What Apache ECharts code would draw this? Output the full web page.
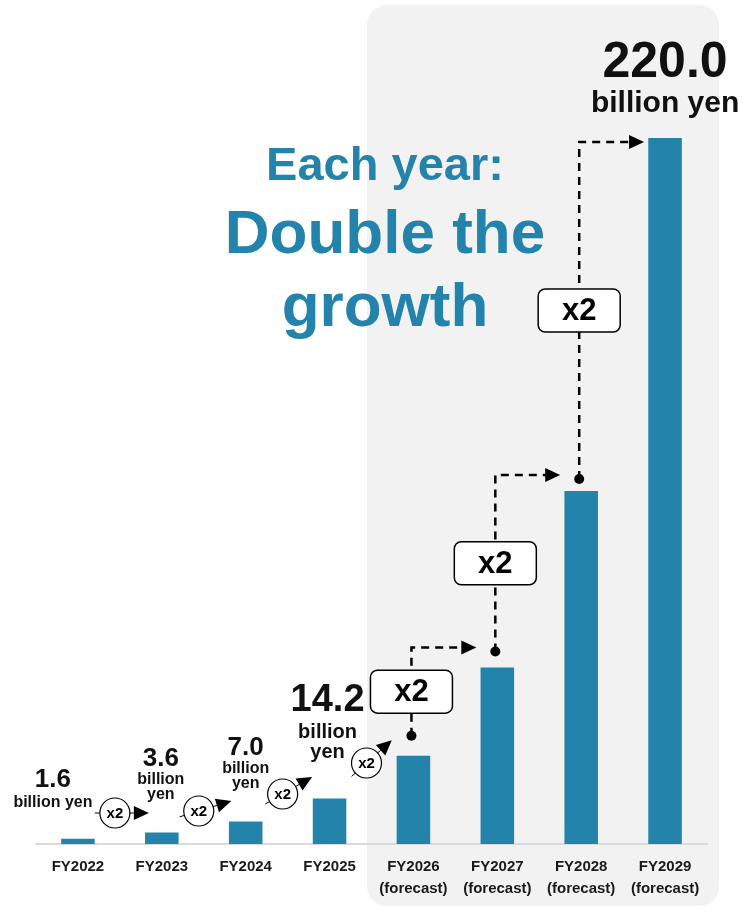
<!DOCTYPE html>
<html>
<head>
<meta charset="utf-8">
<script src="https://cdn.jsdelivr.net/npm/echarts@6/dist/echarts.min.js"></script>
<style>
  html, body { margin: 0; padding: 0; background: #fff; }
  #main { width: 743px; height: 909px; }
</style>
</head>
<body>
<div id="main"></div>
<script>
  // data
  var categories = ['FY2022', 'FY2023', 'FY2024', 'FY2025', 'FY2026', 'FY2027', 'FY2028', 'FY2029'];
  var axisNotes = ['', '', '', '', '(forecast)', '(forecast)', '(forecast)', '(forecast)'];
  var sales = [1.6, 3.6, 7.0, 14.2, 27.5, 55, 110, 220];
  var valueLabels = ['1.6', '3.6', '7.0', '14.2', '', '', '', '220.0'];
  var unitLines = [['billion yen'], ['billion', 'yen'], ['billion', 'yen'], ['billion', 'yen'], [], [], [], ['billion yen']];
  var growthMark = 'x2';
  var headline = ['Each year:', 'Double the', 'growth'];

  var FONT = '"Liberation Sans", Arial, Helvetica, sans-serif';
  var BLUE = '#2383ab';
  var INK = '#111';

  // label look per bar (null = no label)
  var labelStyle = [
    { num: 26, unit: 16, numLH: 28, unitLH: 18, dist: 27, dx: -25 },
    { num: 26, unit: 16, numLH: 28, unitLH: 15, dist: 30, dx: -1 },
    { num: 26, unit: 16, numLH: 28, unitLH: 15, dist: 30, dx: 0 },
    { num: 38, unit: 20, numLH: 44, unitLH: 20, dist: 36, dx: -2 },
    null, null, null,
    { num: 50, unit: 30, numLH: 52, unitLH: 30, dist: 19, dx: 0 }
  ];

  var barData = sales.map(function (v, i) {
    var s = labelStyle[i];
    if (!s) return { value: v, label: { show: false } };
    var txt = '{n|' + valueLabels[i] + '}\n' + unitLines[i].map(function (t) { return '{u|' + t + '}'; }).join('\n');
    return {
      value: v,
      label: {
        show: true,
        position: 'top',
        distance: s.dist,
        offset: [s.dx, 0],
        formatter: txt,
        rich: {
          n: { fontSize: s.num, fontWeight: 'bold', lineHeight: s.numLH, color: INK, fontFamily: FONT },
          u: { fontSize: s.unit, fontWeight: 'bold', lineHeight: s.unitLH, color: INK, fontFamily: FONT }
        }
      }
    };
  });

  var chart = echarts.init(document.getElementById('main'));
  var option = {
    animation: false,
    backgroundColor: '#fff',
    grid: { left: 36, right: 36, top: 138, bottom: 65 },
    xAxis: {
      type: 'category',
      data: categories,
      axisLine: { lineStyle: { color: '#d9d9d9', width: 2 } },
      axisTick: { show: false },
      axisLabel: {
        interval: 0,
        margin: 12,
        formatter: function (v, i) {
          return '{a|' + v + '}' + (axisNotes[i] ? '\n{a|' + axisNotes[i] + '}' : '');
        },
        rich: {
          a: { fontSize: 15, fontWeight: 'bold', lineHeight: 22, color: '#1a1a1a', fontFamily: FONT }
        }
      }
    },
    yAxis: {
      type: 'value',
      min: 0,
      max: 220,
      show: false,
      splitLine: { show: false }
    },
    series: [{
      type: 'bar',
      data: barData,
      barWidth: '40%',
      itemStyle: { color: BLUE },
      z: 5
    }]
  };
  chart.setOption(option);

  // annotations anchored on the bars
  var pts = sales.map(function (v, i) { return chart.convertToPixel({ seriesIndex: 0 }, [i, v]); });
  var g = [];

  // grey forecast panel
  g.push({
    type: 'rect', z: -10, silent: true,
    shape: { x: 367, y: 5, width: 352, height: 901, r: 20 },
    style: { fill: '#f2f2f2' }
  });

  // headline
  var headSize = [47, 62, 62];
  var headBase = [183, 257, 330];
  headline.forEach(function (t, k) {
    g.push({
      type: 'text', z: 10,
      style: {
        text: t, x: 385, y: headBase[k] - 0.3465 * headSize[k],
        align: 'center', verticalAlign: 'middle',
        fontSize: headSize[k], fontWeight: 'bold', fontFamily: FONT, fill: BLUE
      }
    });
  });

  // dashed connectors between forecast bars
  var dotLift = [20, 16, 12];
  for (var k = 0; k < 3; k++) {
    var i = 4 + k;
    var x0 = pts[i][0] - 2;
    var yDot = pts[i][1] - dotLift[k];
    var yH = (i + 1 < 7) ? pts[i + 1][1] - dotLift[k + 1] - 4 : pts[i + 1][1] + 4;
    var xTip = pts[i + 1][0] - 21;
    g.push({
      type: 'polyline', z: 10,
      shape: { points: [[x0, yDot], [x0, yH], [xTip - 12, yH]] },
      style: { stroke: '#000', lineWidth: 2.5, lineDash: [8, 6], fill: null }
    });
    g.push({
      type: 'polygon', z: 10,
      shape: { points: [[xTip - 15, yH - 7], [xTip, yH], [xTip - 15, yH + 7]] },
      style: { fill: '#000' }
    });
    g.push({
      type: 'circle', z: 10,
      shape: { cx: x0, cy: yDot, r: 5 },
      style: { fill: '#000' }
    });
    var mid = (yDot + yH) / 2;
    g.push({
      type: 'rect', z: 11,
      shape: { x: x0 - 41, y: mid - 21.5, width: 82, height: 43, r: 7 },
      style: { fill: '#fff', stroke: '#000', lineWidth: 1.5 }
    });
    g.push({
      type: 'text', z: 12,
      style: {
        text: growthMark, x: x0, y: mid + 1, align: 'center', verticalAlign: 'middle',
        fontSize: 31, fontWeight: 'bold', fontFamily: FONT, fill: '#000'
      }
    });
  }

  // small circled x2 between the actual years
  var markY = [813, 811, 794, 763];
  var markAngle = [0, -17, -30, -42];
  for (var j = 0; j < 4; j++) {
    var cx = (pts[j][0] + pts[j + 1][0]) / 2 - 5;
    var cy = markY[j];
    var a = markAngle[j] * Math.PI / 180;
    var dx = Math.cos(a), dy = Math.sin(a);
    var r = 15;
    var tipD = 34, headL = 15, headW = 7;
    var bx = cx + dx * (tipD - headL), by = cy + dy * (tipD - headL);
    g.push({
      type: 'line', z: 10,
      shape: { x1: cx - dx * (r + 5), y1: cy - dy * (r + 5), x2: bx, y2: by },
      style: { stroke: '#000', lineWidth: 1 }
    });
    g.push({
      type: 'polygon', z: 10,
      shape: { points: [
        [bx - dy * headW, by + dx * headW],
        [cx + dx * tipD, cy + dy * tipD],
        [bx + dy * headW, by - dx * headW]
      ] },
      style: { fill: '#000' }
    });
    g.push({
      type: 'circle', z: 11,
      shape: { cx: cx, cy: cy, r: r },
      style: { fill: '#fff', stroke: '#000', lineWidth: 1.2 }
    });
    g.push({
      type: 'text', z: 12,
      style: {
        text: growthMark, x: cx, y: cy + 1, align: 'center', verticalAlign: 'middle',
        fontSize: 15, fontWeight: 'bold', fontFamily: FONT, fill: '#000'
      }
    });
  }

  chart.setOption({ graphic: g });
</script>
</body>
</html>
